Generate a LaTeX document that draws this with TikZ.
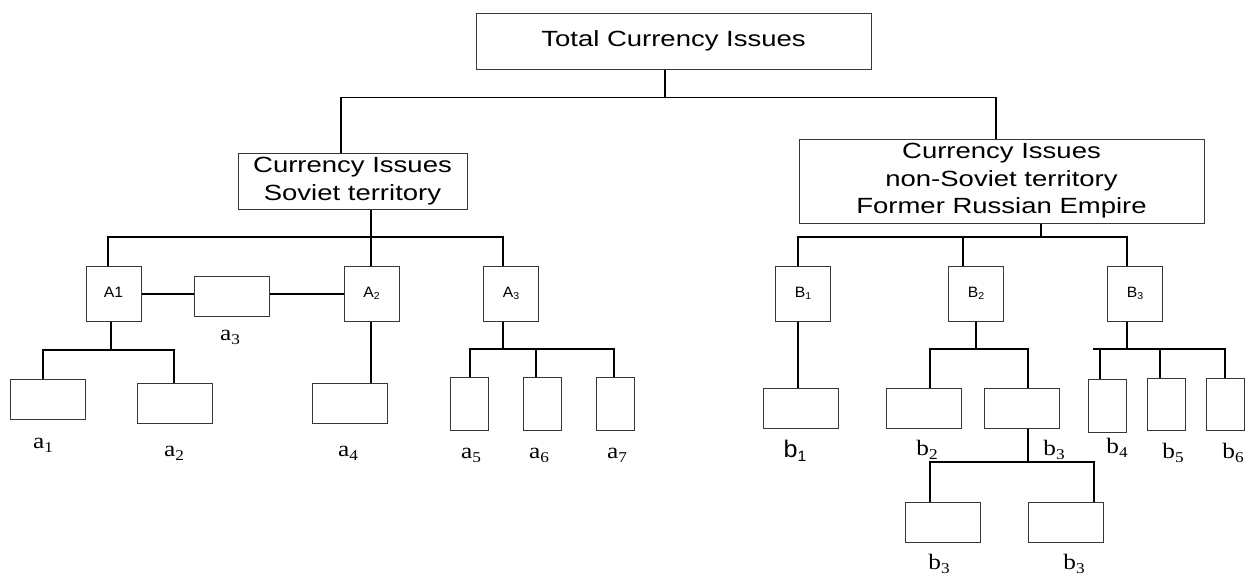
\documentclass[tikz,border=0pt]{standalone}
\usepackage{fontspec}
\newfontfamily\sansw[FakeStretch=1.25]{Liberation Sans}
\newfontfamily\sansn[FakeStretch=1.05]{Liberation Sans}
\newfontfamily\serifw[FakeStretch=1.15]{Liberation Serif}
\definecolor{boxgray}{RGB}{55,55,55}
\newcommand\bigtxt{\sansw\fontsize{22}{27.5}\selectfont}
\newcommand\smlab[2]{{\sansn\fontsize{15}{15}\selectfont #1\raisebox{-1.7pt}{\fontsize{10}{10}\selectfont #2}}}
\newcommand\serlab[2]{{\serifw\fontsize{22}{22}\selectfont #1\raisebox{-4pt}{\fontsize{15}{15}\selectfont #2}}}
\newcommand\sanlab[2]{{\sansn\fontsize{24}{24}\selectfont #1\raisebox{-4pt}{\fontsize{15}{15}\selectfont #2}}}
\begin{document}
\begin{tikzpicture}[x=1pt,y=-1pt,
  box/.style={draw=boxgray,line width=1pt,inner sep=0pt,fill=white},
  bigbox/.style={box,align=center,font=\bigtxt},
  sq/.style={box,minimum width=55pt,minimum height=55pt},
  wbox/.style={box,minimum width=75pt,minimum height=40pt},
  tbox/.style={box,minimum width=38pt,minimum height=53pt},
  conn/.style={line width=2.6pt},
  topc/.style={line width=2pt},
  toph/.style={line width=1pt},
  lab/.style={anchor=base,inner sep=0pt}]
\useasboundingbox[fill=white] (0,0) rectangle (1250,576);

% main boxes
\node[bigbox,minimum width=395pt,minimum height=56pt] (top) at (673.5,41) {Total Currency Issues};
\node[bigbox,minimum width=229pt,minimum height=56pt] (sov) at (352.5,181) {Currency Issues\\Soviet territory};
\node[bigbox,minimum width=405pt,minimum height=84pt] (non) at (1001.5,181) {Currency Issues\\non-Soviet territory\\Former Russian Empire};

% level A / B
\node[sq] (A1) at (113.5,293.5) {\smlab{A1}{}};
\node[sq] (A2) at (371.5,293.5) {\smlab{A}{2}};
\node[sq] (A3) at (511,293.5) {\smlab{A}{3}};
\node[wbox] (a3) at (231.5,296) {};
\node[sq] (B1) at (803,293.5) {\smlab{B}{1}};
\node[sq] (B2) at (976,293.5) {\smlab{B}{2}};
\node[sq] (B3) at (1135,293.5) {\smlab{B}{3}};

% leaves
\node[wbox] (a1) at (47.5,399.5) {};
\node[wbox] (a2) at (174.5,403) {};
\node[wbox] (a4) at (349.5,403) {};
\node[tbox] (a5) at (469.5,403.5) {};
\node[tbox] (a6) at (542,403.5) {};
\node[tbox] (a7) at (615,403.5) {};
\node[wbox] (b1) at (800.5,408) {};
\node[wbox] (b2) at (923.5,408) {};
\node[wbox] (b3) at (1021.5,408) {};
\node[tbox] (b4) at (1107,405.5) {};
\node[tbox,minimum height=52pt] (b5) at (1166.5,404) {};
\node[tbox,minimum height=52pt] (b6) at (1225,404) {};
\node[wbox] (b3a) at (943,522) {};
\node[wbox] (b3b) at (1065.5,522) {};

% labels
\node[lab] (la1) at (43,448) {\serlab{a}{1}};
\node[lab] (la2) at (174,456) {\serlab{a}{2}};
\node[lab] (la3) at (230,340) {\serlab{a}{3}};
\node[lab] (la4) at (348,456) {\serlab{a}{4}};
\node[lab] (la5) at (471,458) {\serlab{a}{5}};
\node[lab] (la6) at (539,458) {\serlab{a}{6}};
\node[lab] (la7) at (617,458) {\serlab{a}{7}};
\node[lab] (lb1) at (795,457) {\sanlab{b}{1}};
\node[lab] (lb2) at (927,455) {\serlab{b}{2}};
\node[lab] (lb3) at (1054,455) {\serlab{b}{3}};
\node[lab] (lb4) at (1117,453) {\serlab{b}{4}};
\node[lab] (lb5) at (1173,458) {\serlab{b}{5}};
\node[lab] (lb6) at (1233,458) {\serlab{b}{6}};
\node[lab] (lb3a) at (939,569) {\serlab{b}{3}};
\node[lab] (lb3b) at (1074,569) {\serlab{b}{3}};

% junction coordinates
\coordinate (jt) at (665,97);
\coordinate (jL) at (341,97);
\coordinate (jR) at (996,97);
\coordinate (jS) at (371,237);
\coordinate (dA1) at (108,237);
\coordinate (dA3) at (503,237);
\coordinate (hA1) at (111,350);
\coordinate (d1) at (43,350);
\coordinate (d2) at (174,350);
\coordinate (hA3) at (503,349);
\coordinate (d5) at (470,349);
\coordinate (d6) at (536,349);
\coordinate (d7) at (614,349);
\coordinate (jN) at (1041,237);
\coordinate (dB1) at (798,237);
\coordinate (dB2) at (963,237);
\coordinate (dB3) at (1127,237);
\coordinate (hB2) at (976,349);
\coordinate (e2) at (930,349);
\coordinate (e3) at (1028,349);
\coordinate (hb3) at (1028,462);
\coordinate (f1) at (930,462);
\coordinate (f2) at (1094,462);
\coordinate (hB3) at (1127,349);
\coordinate (g0) at (1093,349);
\coordinate (g4) at (1100,349);
\coordinate (g5) at (1160,349);
\coordinate (g6) at (1225,349);
\coordinate (hl) at (0,294);

% top level connectors
\draw[topc] (top.south -| jt) -- (jt);
\draw[toph] (jL) -- (jR);
\draw[topc] (jL) -- (jL |- sov.north);
\draw[topc] (jR) -- (jR |- non.north);

% Soviet branch
\draw[conn] (sov.south -| jS) -- (jS) -- (jS |- A2.north);
\draw[conn] (dA1 |- A1.north) -- (dA1) -- (dA3) -- (dA3 |- A3.north);
\draw[conn] (A1.east |- hl) -- (a3.west |- hl);
\draw[conn] (a3.east |- hl) -- (A2.west |- hl);
\draw[conn] (A1.south -| hA1) -- (hA1);
\draw[conn] (d1 |- a1.north) -- (d1) -- (d2) -- (d2 |- a2.north);
\draw[conn] (A2.south -| jS) -- (jS |- a4.north);
\draw[conn] (A3.south -| hA3) -- (hA3);
\draw[conn] (d5 |- a5.north) -- (d5) -- (d7) -- (d7 |- a7.north);
\draw[conn] (d6) -- (d6 |- a6.north);

% non-Soviet branch
\draw[conn] (non.south -| jN) -- (jN);
\draw[conn] (dB1 |- B1.north) -- (dB1) -- (dB3) -- (dB3 |- B3.north);
\draw[conn] (dB2) -- (dB2 |- B2.north);
\draw[conn] (dB1 |- B1.south) -- (dB1 |- b1.north);
\draw[conn] (B2.south -| hB2) -- (hB2);
\draw[conn] (e2 |- b2.north) -- (e2) -- (e3) -- (e3 |- b3.north);
\draw[conn] (b3.south -| hb3) -- (hb3);
\draw[conn] (f1 |- b3a.north) -- (f1) -- (f2) -- (f2 |- b3b.north);
\draw[conn] (B3.south -| hB3) -- (hB3);
\draw[conn] (g0) -- (g6) -- (g6 |- b6.north);
\draw[conn] (g4) -- (g4 |- b4.north);
\draw[conn] (g5) -- (g5 |- b5.north);
\end{tikzpicture}
\end{document}
